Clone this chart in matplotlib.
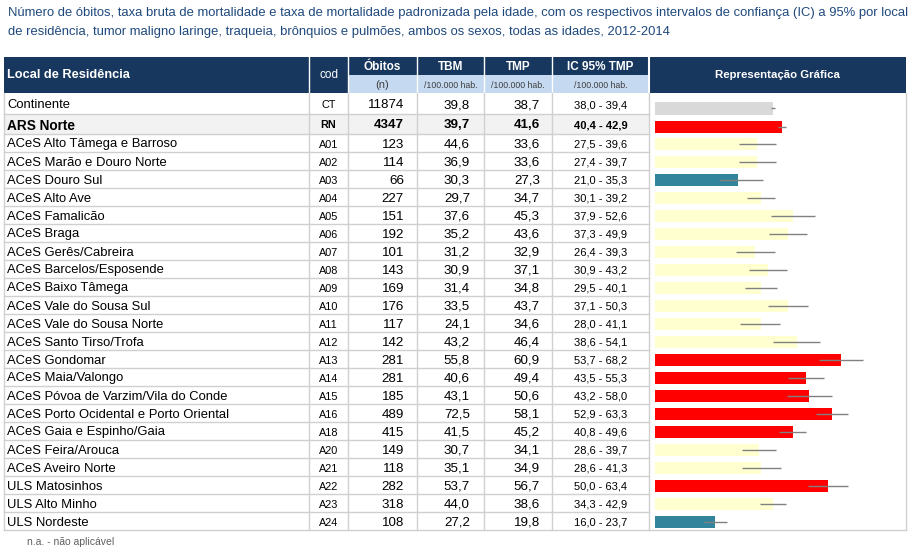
import matplotlib
matplotlib.use('Agg')
import matplotlib.pyplot as plt
from matplotlib.patches import Rectangle

plt.rcParams['font.family'] = ['Liberation Sans', 'DejaVu Sans']

## table data
locais = ['Continente', 'ARS Norte', 'ACeS Alto Tâmega e Barroso', 'ACeS Marão e Douro Norte',
          'ACeS Douro Sul', 'ACeS Alto Ave', 'ACeS Famalicão', 'ACeS Braga', 'ACeS Gerês/Cabreira',
          'ACeS Barcelos/Esposende', 'ACeS Baixo Tâmega', 'ACeS Vale do Sousa Sul',
          'ACeS Vale do Sousa Norte', 'ACeS Santo Tirso/Trofa', 'ACeS Gondomar', 'ACeS Maia/Valongo',
          'ACeS Póvoa de Varzim/Vila do Conde', 'ACeS Porto Ocidental e Porto Oriental',
          'ACeS Gaia e Espinho/Gaia', 'ACeS Feira/Arouca', 'ACeS Aveiro Norte', 'ULS Matosinhos',
          'ULS Alto Minho', 'ULS Nordeste']
cods = ['CT', 'RN', 'A01', 'A02', 'A03', 'A04', 'A05', 'A06', 'A07', 'A08', 'A09', 'A10',
        'A11', 'A12', 'A13', 'A14', 'A15', 'A16', 'A18', 'A20', 'A21', 'A22', 'A23', 'A24']
obitos = [11874, 4347, 123, 114, 66, 227, 151, 192, 101, 143, 169, 176,
          117, 142, 281, 281, 185, 489, 415, 149, 118, 282, 318, 108]
tbm = [39.8, 39.7, 44.6, 36.9, 30.3, 29.7, 37.6, 35.2, 31.2, 30.9, 31.4, 33.5,
       24.1, 43.2, 55.8, 40.6, 43.1, 72.5, 41.5, 30.7, 35.1, 53.7, 44.0, 27.2]
tmp = [38.7, 41.6, 33.6, 33.6, 27.3, 34.7, 45.3, 43.6, 32.9, 37.1, 34.8, 43.7,
       34.6, 46.4, 60.9, 49.4, 50.6, 58.1, 45.2, 34.1, 34.9, 56.7, 38.6, 19.8]
ic_lo = [38.0, 40.4, 27.5, 27.4, 21.0, 30.1, 37.9, 37.3, 26.4, 30.9, 29.5, 37.1,
         28.0, 38.6, 53.7, 43.5, 43.2, 52.9, 40.8, 28.6, 28.6, 50.0, 34.3, 16.0]
ic_hi = [39.4, 42.9, 39.6, 39.7, 35.3, 39.2, 52.6, 49.9, 39.3, 43.2, 40.1, 50.3,
         41.1, 54.1, 68.2, 55.3, 58.0, 63.3, 49.6, 39.7, 41.3, 63.4, 42.9, 23.7]
## bar colour class: c = country, r = significantly higher, y = not different, t = lower
classe = ['c', 'r', 'y', 'y', 't', 'y', 'y', 'y', 'y', 'y', 'y', 'y',
          'y', 'y', 'r', 'r', 'r', 'r', 'r', 'y', 'y', 'r', 'y', 't']

cores = {'c': '#D9D9D9', 'r': '#FF0000', 'y': '#FFFFD0', 't': '#31849B'}
navy = '#17375E'
subblue = '#C5D9F1'
grid = '#D0D0D0'

W, H = 918, 552


def fmt(v):
    return ('%.1f' % v).replace('.', ',')


fig = plt.figure(figsize=(W / 100, H / 100), dpi=100)
ax = fig.add_axes([0, 0, 1, 1])
ax.set_xlim(0, W)
ax.set_ylim(H, 0)
ax.axis('off')

## title
ax.text(8, 13, 'Número de óbitos, taxa bruta de mortalidade e taxa de mortalidade padronizada pela idade, '
        'com os respectivos intervalos de confiança (IC) a 95% por local', color='#1F497D',
        fontsize=9.4, va='center')
ax.text(8, 32, 'de residência, tumor maligno laringe, traqueia, brônquios e pulmões, ambos os sexos, '
        'todas as idades, 2012-2014', color='#1F497D', fontsize=9.4, va='center')

## column edges
cols = [4, 309, 348, 417, 484, 552, 649, 906]
top, mid, hdr = 57, 75, 93

# header
ax.add_patch(Rectangle((cols[0], top), cols[2] - cols[0], hdr - top, color=navy, lw=0))
ax.add_patch(Rectangle((cols[2], top), cols[6] - cols[2], mid - top, color=navy, lw=0))
ax.add_patch(Rectangle((cols[2], mid), cols[6] - cols[2], hdr - mid, color=subblue, lw=0))
ax.add_patch(Rectangle((cols[6], top), cols[7] - cols[6], hdr - top, color=navy, lw=0))
for x in cols[2:6]:
    ax.plot([x, x], [top, hdr], color='white', lw=1)
ax.plot([cols[1], cols[1]], [top, hdr], color='white', lw=1)
ax.plot([cols[6], cols[6]], [top, hdr], color='white', lw=1.5)

ax.text(7, 75, 'Local de Residência', color='white', fontsize=9.2, fontweight='bold', va='center')
ax.text((cols[1] + cols[2]) / 2, 75, 'cod', color='white', fontsize=8.5, ha='center', va='center')
heads = ['Óbitos', 'TBM', 'TMP', 'IC 95% TMP']
subs = ['(n)', '/100.000 hab.', '/100.000 hab.', '/100.000 hab.']
for i in range(4):
    cx = (cols[2 + i] + cols[3 + i]) / 2
    ax.text(cx, 66.5, heads[i], color='white', fontsize=8.5, fontweight='bold', ha='center', va='center')
    ax.text(cx, 85, subs[i], color='#404040', fontsize=8 if i == 0 else 6.3, ha='center', va='center')
ax.text((cols[6] + cols[7]) / 2, 75, 'Representação Gráfica', color='white', fontsize=8.2,
        fontweight='bold', ha='center', va='center')

## rows
edges = [hdr, 114, 134]
for i in range(2, len(locais)):
    edges.append(edges[-1] + 18)
bottom = edges[-1]

for i in range(len(locais)):
    y0, y1 = edges[i], edges[i + 1]
    yc = (y0 + y1) / 2 + 1.5
    bold = i == 1
    if bold:
        ax.add_patch(Rectangle((cols[0], y0), cols[6] - cols[0], y1 - y0, color='#F2F2F2', lw=0))
    fw = 'bold' if bold else 'normal'
    ax.text(7, yc, locais[i], fontsize=9.4 if not bold else 9.8, fontweight=fw, va='center', color='black')
    ax.text((cols[1] + cols[2]) / 2, yc, cods[i], fontsize=7.8, fontweight=fw, ha='center', va='center')
    ax.text(cols[3] - 13, yc, str(obitos[i]), fontsize=9.6, fontweight=fw, ha='right', va='center')
    ax.text(cols[4] - 14, yc, fmt(tbm[i]), fontsize=9.6, fontweight=fw, ha='right', va='center')
    ax.text(cols[5] - 12, yc, fmt(tmp[i]), fontsize=9.6, fontweight=fw, ha='right', va='center')
    ax.text((cols[5] + cols[6]) / 2, yc, fmt(ic_lo[i]) + ' - ' + fmt(ic_hi[i]), fontsize=8,
            fontweight=fw, ha='center', va='center')
    ax.plot([cols[0], cols[6]], [y1, y1], color=grid, lw=1)

for x in cols[:7]:
    ax.plot([x, x], [hdr, bottom], color=grid, lw=1)
ax.plot([cols[7], cols[7]], [hdr, bottom], color=grid, lw=1)
ax.plot([cols[6], cols[7]], [bottom, bottom], color=grid, lw=1)

ax.text(27, 542, 'n.a. - não aplicável', fontsize=7.5, color='#606060', va='center')

## graphic column: bars of TMP with CI
bar_y = [108.5, 127] + [144 + 18 * k for k in range(len(locais) - 2)]
scale = 3.05  # px per unit
gx0, gx1 = cols[6] + 1, cols[7] - 1
gax = fig.add_axes([gx0 / W, 1 - bottom / H, (gx1 - gx0) / W, (bottom - hdr) / H])
gax.set_xlim(-(655 - gx0) / scale, (gx1 - 655) / scale)
gax.set_ylim(bottom, hdr)
gax.axis('off')
gax.barh(bar_y, tmp, height=12.5, color=[cores[c] for c in classe], left=0)
gax.hlines(bar_y, ic_lo, ic_hi, color='#808080', lw=1)

fig.savefig('out.png', dpi=100)
